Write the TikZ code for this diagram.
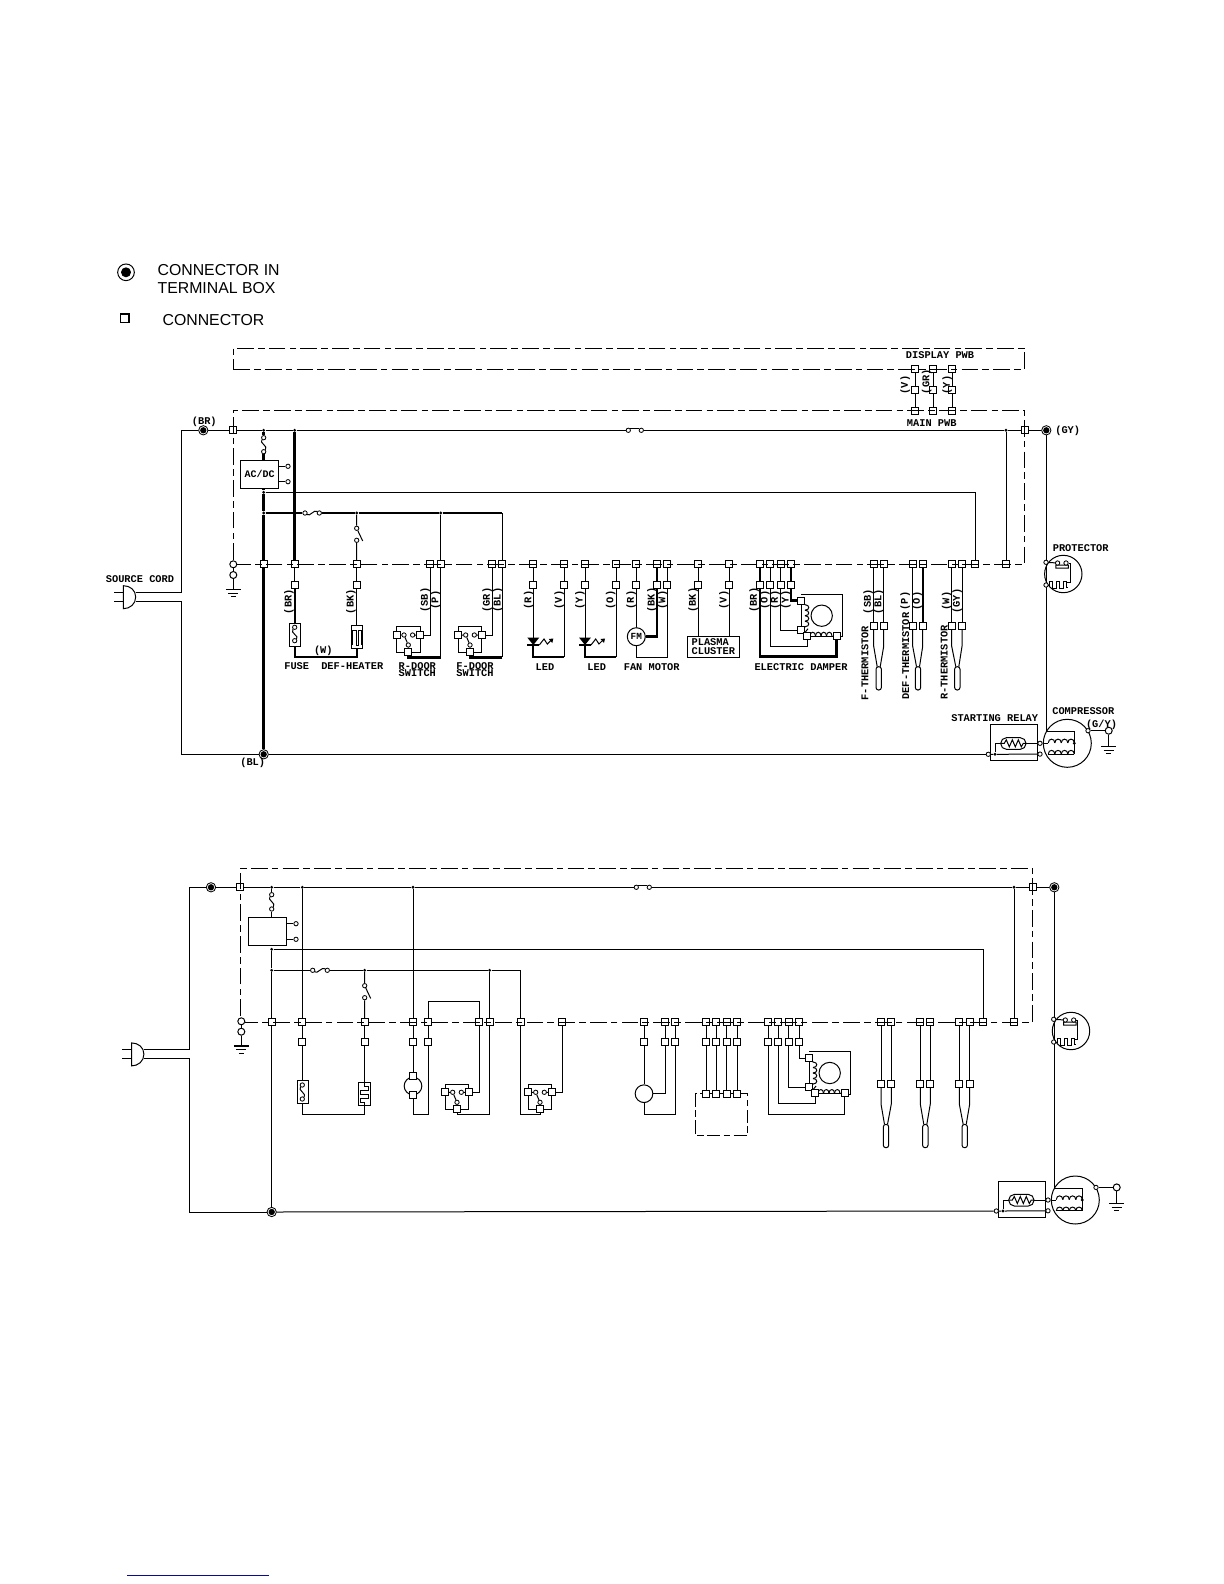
\documentclass[tikz,border=0pt]{standalone}
\usepackage{fontspec}
\setmainfont{Liberation Sans}
\newfontfamily\labf{Liberation Mono}
\tikzset{
  wire/.style={line width=0.6pt,line join=miter,black},
  med/.style={line width=1pt,black},
  thk/.style={line width=1.6pt,black},
  pwb/.style={line width=0.6pt,dash pattern=on 10pt off 2.5pt on 4pt off 2.5pt},
  sq/.style={draw,fill=white,rectangle,line width=0.5pt,minimum size=4.2pt,inner sep=0pt},
  jd/.style={circle,fill=black,minimum size=1.9pt,inner sep=0pt},
  oc/.style={circle,draw,fill=white,line width=0.5pt,minimum size=2.6pt,inner sep=0pt},
  ocb/.style={circle,draw,fill=white,line width=0.6pt,minimum size=4.2pt,inner sep=0pt},
  tm/.style={circle,draw,fill=white,line width=0.5pt,minimum size=5.6pt,inner sep=0pt},
  boxn/.style={draw,rectangle,line width=0.6pt,inner sep=0pt},
  lab/.style={font=\labf\bfseries\fontsize{6.2}{4.6}\selectfont,inner sep=0pt,align=center},
  leg/.style={font=\fontsize{9.5}{11}\selectfont,inner sep=0pt,anchor=west},
}
\newcommand{\sqn}[3]{\node[sq] (#1) at (#2,#3) {};}
\newcommand{\jnn}[3]{\node[jd] (#1) at (#2,#3) {};}
\newcommand{\ocn}[3]{\node[oc] (#1) at (#2,#3) {};}
\newcommand{\tmn}[3]{\node[tm] (#1) at (#2,#3) {}; \fill (#1.center) circle (1.9pt);}
\newcommand{\coilh}[5]{\foreach \i in {1,...,#3} \draw[wire] ({#1+(\i-1)*#4},#2) .. controls ({#1+(\i-1)*#4},{#2-#5}) and ({#1+\i*#4},{#2-#5}) .. ({#1+\i*#4},#2);}
\newcommand{\coilv}[5]{\foreach \i in {1,...,#3} \draw[wire] (#1,{#2+(\i-1)*#4}) .. controls ({#1+#5},{#2+(\i-1)*#4}) and ({#1+#5},{#2+\i*#4}) .. (#1,{#2+\i*#4});}
\newcommand{\gndb}[2]{\draw[line width=0.9pt] ({#1-7.5},#2) -- ({#1+7.5},#2); \draw[wire] ({#1-5},{#2+3.7}) -- ({#1+5},{#2+3.7}); \draw[wire] ({#1-2.5},{#2+7.2}) -- ({#1+2.5},{#2+7.2});}
% door switch: origin = centre line of the small circles
\newcommand{\doorsw}[3]{\begin{scope}[shift={(#2,#3)}]
  \draw[wire] (-11.7,-8.3) rectangle (11.7,17.3);
  \sqn{#1l}{-11.7}{0}\sqn{#1r}{11.7}{0}\sqn{#1b}{0}{16.7}
  \ocn{#1c1}{-4.3}{0}\ocn{#1c2}{4.3}{0}\ocn{#1c3}{0}{10}
  \draw[wire] (#1l)--(#1c1) (#1r)--(#1c2) (#1c1)--(#1c3) (#1c3)--(#1b);
\end{scope}}
% electric damper
\newcommand{\damper}[3]{\begin{scope}[shift={(#2,#3)}]
  \draw[wire] (0,-6.4) -- (41.3,-6.4) -- (41.3,36) -- (35.7,36);
  \draw[wire] (0,0) -- (0,29.3);
  \draw[wire] (2,2) -- (4,4);
  \coilv{4}{4}{4}{5.5}{5}
  \draw[wire] (4,26) -- (2,29) (3,33) -- (7,28);
  \draw[wire] (6.3,35.3) -- (35.7,35.3);
  \coilh{9}{35.3}{4}{5.5}{5}
  \node[circle,draw,line width=0.6pt,minimum size=12.8pt,inner sep=0pt] (#1m) at (20.7,15) {};
  \sqn{#1p1}{0}{0}\sqn{#1p2}{0}{29.3}\sqn{#1p3}{6.3}{35.3}\sqn{#1p4}{35.7}{35.3}
\end{scope}}
% thermistor pair
\newcommand{\therm}[7]{% name x1 x2 cx yrow style1 style2
  \sqn{#1a}{#2}{#5}\sqn{#1b}{#3}{#5}\sqn{#1c}{#2}{#5+61.7}\sqn{#1d}{#3}{#5+61.7}
  \draw[#6] (#1a)--(#1c); \draw[#7] (#1b)--(#1d);
  \draw[wire] (#1c) -- (#2,{#5+82}) -- ({#4-1.5},{#5+102.4});
  \draw[wire] (#1d) -- (#3,{#5+82}) -- ({#4+1.5},{#5+102.4});
  \draw[wire,rounded corners=1.5pt] ({#4-2.7},{#5+102.4}) -- ({#4-2.7},{#5+125.7}) -- ({#4+2.7},{#5+125.7}) -- ({#4+2.7},{#5+102.4}) -- cycle;
}
% compressor + relay, origin = compressor centre
\newcommand{\compr}[3]{\begin{scope}[shift={(#2,#3)}]
  \draw[wire] (-77,-18.6) rectangle (-29.6,17.4);
  \draw[wire,rounded corners=3.4pt] (-66.6,-5.6) rectangle (-41.3,6);
  \draw[wire] (-66.6,0) -- (-63,0) -- (-61,-3.5) -- (-58,3.5) -- (-55,-3.5) -- (-52,3.5) -- (-49,-3.5) -- (-46,3.5) -- (-44,0) -- (-41.3,0);
  \draw[line width=0.6pt] (0,0) circle (24);
  \ocn{#1a}{-27.3}{0}\ocn{#1b}{-27.3}{10.8}\ocn{#1o}{-79}{11}\jnn{#1n}{-72.3}{11}
  \jnn{#1r}{7}{0}
  \coordinate (#1w) at (-21,-12);
  \draw[wire] (#1w) -- (7,-12) -- (7,11);
  \draw[wire] (-66.6,0) -- (-72.3,0) -- (#1n);
  \draw[wire] (#1o) -- (#1n) -- (#1b);
  \draw[wire] (-41.3,0) -- (#1a);
  \draw[wire] (#1a) -- (-19,0);
  \coilh{-19}{-0.4}{4}{6.5}{5}
  \coilh{-19}{10.8}{4}{6.5}{5}
  \draw[wire] (-19,10.8) -- (7,10.8);
  \ocn{#1g}{20.7}{-12.6}\node[ocb] (#1h) at (41.4,-12.6) {};
  \draw[wire] (#1g) -- (#1h);
  \draw[wire] (#1h) -- (41.4,3.4);
  \gndb{41.4}{3.4}
\end{scope}}
\newcommand{\protec}[3]{\begin{scope}[shift={(#2,#3)}]
  \draw[line width=0.6pt] (0,0) circle (18.7);
  \ocn{#1a}{-17.3}{-11.7}\ocn{#1b}{-17.3}{11}
  \draw[wire] (#1a) -- (-5.7,-11) (-7.4,-9) rectangle (5,-6);
  \ocn{#1c}{-5.7}{-11}\ocn{#1d}{2.7}{-11}
  \draw[wire] (#1d) -- (6.7,-11) -- (6.7,8) -- (3,8);
  \draw[wire] (#1b) -- (-14,11) -- (-14,7) -- (-10.5,7) -- (-10.5,14) -- (-7,14) -- (-7,7) -- (-3.5,7) -- (-3.5,14) -- (0,14) -- (0,7) -- (3,7) -- (3,13) -- (5,13);
\end{scope}}
\newcommand{\plugn}[2]{\begin{scope}[shift={(#1,#2)}]
  \draw[wire] (123.3,585.7) .. controls (130,585.7) and (135.7,590) .. (135.7,597) .. controls (135.7,604) and (130,608.7) .. (123.3,608.7) -- cycle;
  \draw[wire] (114,592.3) -- (123.3,592.3) (114,601.5) -- (123.3,601.5);
\end{scope}}
\newcommand{\ledn}[2]{\fill (#1-6,#2-7.5) -- (#1+6,#2-7.5) -- (#1,#2) -- cycle;
  \draw[line width=0.9pt] ({#1-6},#2) -- ({#1+6},#2);
  \draw[wire] ({#1+6},#2) -- ({#1+10.7},{#2-6}) -- ({#1+14},{#2-1}) -- ({#1+18},{#2-5});
  \fill ({#1+20},{#2-6.5}) -- ({#1+15.5},{#2-6}) -- ({#1+19},{#2-2}) -- cycle;}
\begin{document}
\begin{tikzpicture}[x=0.6pt,y=-0.6pt]
\useasboundingbox (0,0) rectangle (1224,1584);
\fill[white] (0,0) rectangle (1224,1584);
%%% legend
\node[circle,draw,line width=0.6pt,minimum size=10pt,inner sep=0pt] (lt) at (126,272.3) {};
\fill (lt.center) circle (3pt);
\node[leg] (l1) at (157.3,270) {CONNECTOR IN};
\node[leg] (l2) at (157.3,288.3) {TERMINAL BOX};
\node[draw,line width=1pt,minimum size=5pt,inner sep=0pt] (ls) at (124.7,318.3) {};
\node[leg] (l3) at (162.3,320) {CONNECTOR};
%%% ------------- first diagram ----------------
% row squares
\foreach \n/\x in {264/263.7,295/294.7,357/356.7,430/430,441/440.7,492/492.3,502/502.3,533/533.3,564/564,585/585,616/616,636/636.3,657/657,667/667.3,698/698,729/729,760/760,770/770.3,781/780.7,791/791,975/975,1006/1006}
  \node[sq] (A\n) at (\x,564.3) {};
\foreach \n/\x in {295/294.7,357/356.7,533/533.3,564/564,585/585,616/616,636/636.3,657/657,667/667.3,698/698,729/729,760/760,770/770.3,781/780.7,791/791}
  {\node[sq] (B\n) at (\x,584.7) {}; \draw[wire] (A\n)--(B\n);}
% PWB links
\foreach \n/\x in {v/915,g/933.3,y/952}{
  \node[sq] (P1\n) at (\x,369.3) {};\node[sq] (P2\n) at (\x,390) {};\node[sq] (P3\n) at (\x,410.7) {};
  \draw[wire] (P1\n)--(P2\n)--(P3\n);}
% top line
\tmn{tBR}{203.3}{430.3}\sqn{sL}{233.3}{430.3}\jnn{j264t}{263.7}{430.3}\jnn{j295t}{294.7}{430.3}
\ocn{swa}{628.3}{430.3}\ocn{swb}{641.3}{430.3}\jnn{j1006}{1006}{430.3}\sqn{sR}{1024.7}{430.3}\tmn{tGY}{1046.3}{430.3}
\draw[wire] (tBR)--(sL)--(j264t)--(j295t)--(swa) (swb)--(j1006)--(sR)--(tGY);
\draw[wire] (swa.north east) -- (swb.north west);
\draw[wire] (j1006)--(A1006);
% plug and cord
\plugn{0}{0}
\coordinate (pu) at (135.7,592.3);\coordinate (pd) at (135.7,601.5);
\tmn{tBL}{263.7}{754.3}
\draw[wire] (pu) -- (181.7,592.3) |- (tBR);
\draw[wire] (pd) -- (181.7,601.5) |- (tBL);
% AC/DC
\node[boxn,minimum width=23pt,minimum height=16.8pt,font=\labf\bfseries\fontsize{6}{6}\selectfont] (acdc) at (259.5,474.3) {AC/DC};
\ocn{fa}{263.7}{437.7}\ocn{fb}{263.7}{451.7}
\draw[thk] (j264t)--(fa);
\draw[wire] (fa) .. controls (258.7,443) and (268.7,446) .. (fb);
\draw[thk] (fb)--(fb |- acdc.north);
\ocn{oa}{288}{466.3}\ocn{ob}{288}{481.7}
\draw[wire] (oa)--(oa -| acdc.east) (ob)--(ob -| acdc.east);
\jnn{j264a}{263.7}{492.3}\jnn{j264b}{263.7}{513}
\draw[thk] (j264b |- acdc.south)--(j264a)--(j264b)--(A264)--(tBL);
\draw[wire] (j264a) -| (A975);
\ocn{fc}{305}{513}\ocn{fd}{319.3}{513}\jnn{j357}{356.7}{513}\jnn{j441}{440.7}{513}
\draw[wire] (fc) .. controls (310,517) and (314,509) .. (fd);
\coordinate (c502) at (502.3,513);
\draw[thk] (j264b)--(fc) (fd)--(j357)--(j441)--(c502);
\draw[thk] (j295t)--(A295);
% def heater branch
\ocn{sa}{356.7}{528.3}\ocn{sb}{356.7}{540.3}
\draw[wire] (j357)--(sa) (sb)--(A357) (sa)--(362.7,541);
\node[boxn,minimum width=6.8pt,minimum height=14pt] (fb1) at (294.7,635) {};
\node[boxn,minimum width=6.8pt,minimum height=14pt] (ht1) at (356.7,637) {};
\draw[med] (B295)--(fb1.north);
\draw[wire] (B357)--(ht1.north);
\ocn{fe}{294.7}{627.3}\ocn{ff}{294.7}{640.7}
\draw[wire] (fe) .. controls (289.7,633) and (299.7,636) .. (ff);
\draw[wire] (352.4,645) -- (352.4,630) -- (356,630) -- (356,645) -- (358.5,645) -- (358.5,630) -- (361,630) -- (361,645);
\coordinate (c1) at (294.7,656.7);
\draw[med] (fb1.south) -- (c1) -| (ht1.south);
% door switches
\doorsw{rd}{408.3}{635}
\doorsw{fd}{470}{635}
\draw[wire] (A430) |- (rdr);
\draw[wire] (j441) -- (A441) -- (440.7,657.3);
\draw[thk] (440.7,657.3) -- (408.3,657.3) -- (rdb);
\draw[wire] (A492) |- (fdr);
\draw[wire] (c502) -- (A502) -- (502.3,657.3);
\draw[thk] (502.3,657.3) -- (470,657.3) -- (fdb);
% LEDs
\coordinate (lb1) at (564,657.3);\coordinate (lb2) at (616,657.3);
\draw[wire] (B533)--(533.3,645) (B564)--(lb1) (B585)--(585,645) (B616)--(lb2);
\draw[med] (533.3,645)--(533.3,657.3)--(lb1);
\draw[med] (585,645)--(585,657.3)--(lb2);
\ledn{533.3}{645}
\ledn{585}{645}
% fan motor
\node[circle,draw,line width=0.6pt,minimum size=10.8pt,inner sep=0pt,font=\labf\bfseries\fontsize{5.6}{5.6}\selectfont] (fm) at (636.3,636.7) {FM};
\draw[wire] (B636)--(fm.north);
\draw[wire] (fm.south) -- (636.3,657.3) -| (B667);
\draw[thk] (A657)--(B657);
\draw[thk] (B657) |- (fm.east);
% plasma
\node[boxn,minimum width=31.2pt,minimum height=12.8pt,font=\labf\bfseries\fontsize{6.2}{5}\selectfont,align=left] (plasma) at (713.3,646.7) {PLASMA\\CLUSTER};
\draw[wire] (B698)--(B698 |- plasma.north) (B729)--(B729 |- plasma.north);
% damper
\damper{da}{801}{600.7}
\draw[thk] (A760)--(B760);
\draw[thk] (B760) -- (760,656.7) -| (dap4);
\draw[wire] (B770) -- (770.3,646.7) -| (dap3);
\draw[wire] (B781) |- (dap2);
\draw[thk] (A791)--(B791);
\draw[thk] (B791) |- (dap1);
% thermistors
\therm{ta}{873.7}{883.7}{878.7}{564.3}{wire}{wire}
\therm{tb}{912.7}{922.7}{918}{564.3}{wire}{med}
\therm{tc}{951.7}{962}{957.3}{564.3}{wire}{wire}
% compressor
\compr{ca}{1067.3}{743.3}
\draw[wire] (tBL)--(cao);
\draw[wire] (tGY)--(tGY |- caw)--(caw);
\protec{pr}{1063.3}{574}
% ground at left
\node[ocb] (ga) at (233.3,564.3) {};\node[ocb] (gb) at (233.3,575) {};
\draw[wire] (ga)--(gb);
\coordinate (gc) at (233.3,589.3);
\draw[wire] (gb)--(gc);
\gndb{233.3}{589.3}
% PWB outlines
\draw[pwb] (233.3,369.3) -- (1024.7,369.3) -- (1024.7,348.3) -- (233.3,348.3) -- cycle;
\draw[pwb] (233.3,560) -- (233.3,410.7) -- (1024.7,410.7) -- (1024.7,564.3) -- (237,564.3);
%%% labels first diagram
\node[lab] (x1) at (940,355.3) {DISPLAY PWB};
\node[lab] (x2) at (931.7,423) {MAIN PWB};
\node[lab] (x3) at (204.3,421.7) {(BR)};
\node[lab] (x4) at (252.7,763) {(BL)};
\node[lab,anchor=west] (x5) at (1055,430.5) {(GY)};
\node[lab] (x6) at (140,579) {SOURCE CORD};
\node[lab] (x7) at (323.3,650.7) {(W)};
\node[lab] (x8) at (296.7,665.7) {FUSE};
\node[lab] (x9) at (352.3,665.7) {DEF-HEATER};
\node[lab] (x10) at (417.3,669.5) {R-DOOR\\SWITCH};
\node[lab] (x11) at (475,669.5) {F-DOOR\\SWITCH};
\node[lab] (x12) at (545,666.7) {LED};
\node[lab] (x13) at (596.7,666.7) {LED};
\node[lab] (x14) at (651.7,666.7) {FAN MOTOR};
\node[lab] (x15) at (801,667) {ELECTRIC DAMPER};
\node[lab] (x16) at (1080.7,548.3) {PROTECTOR};
\node[lab] (x17) at (994.7,717.7) {STARTING RELAY};
\node[lab] (x18) at (1083.3,711) {COMPRESSOR};
\node[lab] (x19) at (1101.5,725) {(G/Y)};
\foreach \n/\x/\y/\t in {r1/905.3/385/(V),r2/926.7/381.7/(GR),r3/947.3/385/(Y),r4/289/601.7/(BR),r5/351/601.7/(BK),r6/425.3/600/(SB),r7/435.7/600/(P),r8/487.3/600/(GR),r9/498/600/(BL),r10/528.7/600/(R),r11/559.3/600/(V),r12/580/600/(Y),r13/610.7/600/(O),r14/631.3/600/(R),r15/652/600/(BK),r16/662.7/600/(W),r17/693.3/600/(BK),r18/724/600/(V),r19/754.3/600/(BR),r20/765/600/(O),r21/775.3/600/(R),r22/786/600/(Y),r23/868.3/601.7/(SB),r24/878.7/601.7/(BL),r25/905.3/601/(P),r26/917.3/601/(O),r27/946.7/601/(W),r28/957.3/601/(GY),r29/865/663/F-THERMISTOR,r30/905.7/656/DEF-THERMISTOR,r31/944.3/662.5/R-THERMISTOR}
  \node[lab,rotate=90] (\n) at (\x,\y) {\t};
%%% ------------- second diagram ----------------
\foreach \n/\x in {272/271.7,302/302.3,365/364.7,413/413,428/428,479/479.3,490/489.7,521/520.7,562/562,644/644,665/665,675/675,706/706,716/716,727/726.7,737/737,768/768,778/778,789/788.7,799/799,983/983.3,1014/1014}
  \node[sq] (C\n) at (\x,1022) {};
\foreach \n/\x in {302/302.3,365/364.7,413/413,428/428,644/644,665/665,675/675,706/706,716/716,727/726.7,737/737,768/768,778/778,789/788.7,799/799}
  {\node[sq] (D\n) at (\x,1042.3) {}; \draw[wire] (C\n)--(D\n);}
\tmn{t2a}{211}{887.3}\sqn{s2L}{240.3}{887.3}\jnn{d272t}{271.7}{887.3}\jnn{d302t}{302.3}{887.3}\jnn{d413t}{413}{887.3}
\ocn{sw2a}{636.3}{887.3}\ocn{sw2b}{649.3}{887.3}\jnn{d1014}{1014}{887.3}\sqn{s2R}{1032.7}{887.3}\tmn{t2b}{1054.3}{887.3}
\draw[wire] (t2a)--(s2L)--(d272t)--(d302t)--(d413t)--(sw2a) (sw2b)--(d1014)--(s2R)--(t2b);
\draw[wire] (sw2a.north east) -- (sw2b.north west);
\draw[wire] (d1014)--(C1014);
\plugn{8.2}{457.2}
\coordinate (qu) at (143.9,1049.5);\coordinate (qd) at (143.9,1058.7);
\tmn{tB2}{271.7}{1212}
\draw[wire] (qu) -- (189.3,1049.5) |- (t2a);
\draw[wire] (qd) -- (189.3,1058.7) |- (tB2);
% power box
\node[boxn,minimum width=23pt,minimum height=16.8pt] (ps) at (267.5,931.5) {};
\ocn{ga2}{271.7}{894.7}\ocn{gb2}{271.7}{909}
\draw[wire] (d272t)--(ga2) (gb2)--(gb2 |- ps.north);
\draw[wire] (ga2) .. controls (266.7,900) and (276.7,903) .. (gb2);
\ocn{oa2}{296}{923.7}\ocn{ob2}{296}{939.3}
\draw[wire] (oa2)--(oa2 -| ps.east) (ob2)--(ob2 -| ps.east);
\jnn{d272a}{271.7}{949.3}\jnn{d272b}{271.7}{970.3}
\draw[wire] (d272a)--(d272b)--(C272)--(tB2);
\draw[wire] (d272a) -| (C983);
\ocn{fc2}{312.7}{970.3}\ocn{fd2}{327.3}{970.3}\jnn{d365}{364.7}{970.3}\jnn{d490}{489.7}{970.3}
\coordinate (c521) at (520.7,970.3);
\draw[wire] (fc2) .. controls (317.7,974.3) and (321.7,966.3) .. (fd2);
\draw[wire] (d272b)--(fc2) (fd2)--(d365)--(d490)--(c521)--(C521);
\draw[wire] (d490)--(C490);
\ocn{sa2}{364.7}{985.7}\ocn{sb2}{364.7}{997.7}
\draw[wire] (d365)--(sa2) (sb2)--(C365) (sa2)--(370.7,998.5);
% fuse & heater
\draw[wire] (d302t)--(C302);
\node[boxn,minimum width=6.8pt,minimum height=14pt] (fb2) at (302.7,1092) {};
\node[boxn,minimum width=7.2pt,minimum height=14pt] (ht2) at (364.7,1094) {};
\draw[wire] (D302)--(D302 |- fb2.north) (D365)--(ht2.north);
\ocn{fe2}{302.3}{1085}\ocn{ff2}{302.3}{1099}
\draw[wire] (fe2) .. controls (297.3,1090) and (307.3,1094) .. (ff2);
\draw[wire] (364.7,1082.3)--(364.7,1086)--(368.2,1086)--(368.2,1090)--(360.7,1090)--(360.7,1094)--(368.2,1094)--(368.2,1098)--(360.7,1098)--(360.7,1102)--(364.7,1102)--(364.7,1105.7);
\coordinate (c2) at (302.3,1114.3);
\draw[wire] (D302 |- fb2.south) -- (c2) -| (ht2.south);
% motor 1
\node[circle,draw,line width=0.6pt,minimum size=10.6pt,inner sep=0pt] (m2) at (413,1086) {};
\sqn{m2t}{413}{1075.7}\sqn{m2b}{413}{1095}
\draw[wire] (d413t)--(C413);
\draw[wire] (D413)--(m2t);
\draw[wire] (m2b) -- (413,1114.3) -| (D428);
\coordinate (c428) at (428,1001.7);
\draw[wire] (C428) -- (c428) -| (C479);
% switches
\doorsw{ea}{457}{1092.3}
\doorsw{eb}{540}{1092.3}
\draw[wire] (C479) |- (ear);
\draw[wire] (C490) -- (489.7,1114.3) -| (eab);
\draw[wire] (C521) -- (520.7,1114.3) -| (ebb);
\draw[wire] (C562) |- (ebr);
% motor 2
\node[circle,draw,line width=0.6pt,minimum size=10.6pt,inner sep=0pt] (m3) at (644,1093.7) {};
\draw[wire] (D644)--(m3.north);
\draw[wire] (m3.east) -| (D665);
\draw[wire] (m3.south) -- (644,1114.3) -| (D675);
% plasma dashed
\draw[line width=0.6pt,dash pattern=on 8pt off 2pt on 4pt off 2pt] (695.3,1093.5) rectangle (747.7,1135.3);
\foreach \n/\x in {706/706,716/716,727/726.7,737/737}
  {\node[sq] (E\n) at (\x,1093.5) {}; \draw[wire] (D\n)--(E\n);}
% damper
\damper{db}{809}{1058}
\draw[wire] (D768) -- (768,1114.3) -| (dbp4);
\draw[wire] (D778) -- (778,1103.3) -| (dbp3);
\draw[wire] (D789) |- (dbp2);
\draw[wire] (D799) |- (dbp1);
% thermistors
\therm{tx}{881}{891.3}{886}{1022}{wire}{wire}
\therm{ty}{920.3}{930.3}{925.3}{1022}{wire}{wire}
\therm{tz}{959.3}{969.7}{964.7}{1022}{wire}{wire}
% compressor
\compr{cb}{1075.3}{1200}
\draw[wire] (tB2)--(cbo);
\draw[wire] (t2b)--(t2b |- cbw)--(cbw);
\protec{ps2}{1071}{1031}
% ground left
\node[ocb] (ha) at (241.3,1021.3) {};\node[ocb] (hb) at (241.3,1031.7) {};
\draw[wire] (ha)--(hb);
\coordinate (hc) at (241.3,1046);
\draw[wire] (hb)--(hc);
\gndb{241.3}{1046}
% PWB outline
\draw[pwb] (240.3,1016) -- (240.3,868.3) -- (1032.7,868.3) -- (1032.7,1022) -- (245,1022);
% footnote rule
\draw[line width=0.8pt,draw={rgb,255:red,10;green,10;blue,150}] (127.3,1575.3) -- (269,1575.3);
\end{tikzpicture}
\end{document}
